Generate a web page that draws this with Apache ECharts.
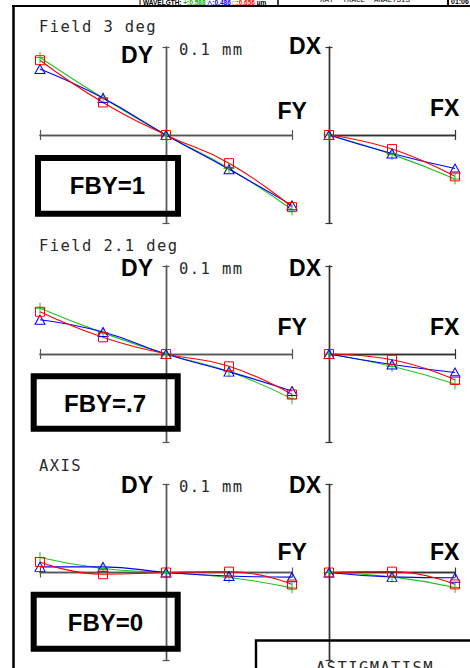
<!DOCTYPE html>
<html>
<head>
<meta charset="utf-8">
<script src="https://cdn.jsdelivr.net/npm/echarts@6/dist/echarts.min.js"></script>
<style>
html,body{margin:0;padding:0;background:#fff;}
#chart{width:470px;height:668px;}
text[style*="DejaVu Sans Mono"]{letter-spacing:1.4px;}
</style>
</head>
<body>
<div id="chart"></div>
<script>
// ---------- data ----------
const pupilY = [-1, -0.5, 0, 0.5, 1];          // relative pupil coordinate (tangential fan)
const pupilX = [0, 0.5, 1];                      // relative pupil coordinate (sagittal fan)
const fieldTitles = ['Field 3 deg', 'Field 2.1 deg', 'AXIS'];
const fbyLabels = ['FBY=1', 'FBY=.7', 'FBY=0'];
const wavelengths = ['0.588', '0.486', '0.656'];  // µm : green +, blue triangle, red square
const scaleValue = 0.1;                           // mm, full scale of DY / DX axes
const scaleUnit = 'mm';

// Field 3 deg
const dy588_f3 = [0.088, 0.042, 0, -0.038, -0.085];
const dy486_f3 = [0.075, 0.042, 0, -0.039, -0.080];
const dy656_f3 = [0.085, 0.037, 0, -0.032, -0.082];
const dx588_f3 = [0, -0.022, -0.050];
const dx486_f3 = [0, -0.021, -0.038];
const dx656_f3 = [0, -0.016, -0.047];
// Field 2.1 deg
const dy588_f2 = [0.052, 0.024, 0, -0.020, -0.051];
const dy486_f2 = [0.039, 0.025, 0, -0.020, -0.042];
const dy656_f2 = [0.048, 0.019, 0, -0.014, -0.046];
const dx588_f2 = [0, -0.014, -0.034];
const dx486_f2 = [0, -0.012, -0.021];
const dx656_f2 = [0, -0.0065, -0.0295];
// Axis
const dy588_f0 = [0.017, 0.0045, 0, -0.0057, -0.0175];
const dy486_f0 = [0.0064, 0.0064, 0, -0.004, -0.0053];
const dy656_f0 = [0.012, -0.002, 0, 0.001, -0.0137];
const dx588_f0 = [0, -0.005, -0.017];
const dx486_f0 = [0, -0.005, -0.006];
const dx656_f0 = [0, 0.001, -0.0135];

const dyPanels = [[dy588_f3, dy486_f3, dy656_f3], [dy588_f2, dy486_f2, dy656_f2], [dy588_f0, dy486_f0, dy656_f0]];
const dxPanels = [[dx588_f3, dx486_f3, dx656_f3], [dx588_f2, dx486_f2, dx656_f2], [dx588_f0, dx486_f0, dx656_f0]];

// ---------- styling / layout ----------
const colors = ['#1ec21e', '#0000ff', '#ff0000'];
const symbols = ['path://M5,0L5,10M0,5L10,5', 'triangle', 'rect'];
const symbolSizes = [11, [10, 9], 9];
const axisY0 = [135, 354, 572.5];
const halfH = 88;
const MONO = '"DejaVu Sans Mono", monospace';
const SANS = '"Liberation Sans", Arial, sans-serif';
const MONO_SIZE = 15.5;

const grids = [], xAxes = [], yAxes = [], series = [];

function addGrid(left, width, top, xMin, xInterval, axisColor) {
  const g = grids.length;
  grids.push({left: left, top: top, width: width, height: 2 * halfH, containLabel: false, outerBoundsMode: 'none'});
  ['bottom', 'top'].forEach(function (pos) {
    xAxes.push({
      type: 'value', gridIndex: g, min: xMin, max: 1, interval: xInterval, position: pos,
      axisLine: {show: true, onZero: true, lineStyle: {color: axisColor, width: 1.4}},
      axisTick: {show: true, inside: false, length: 5, lineStyle: {color: axisColor, width: 1.2}},
      axisLabel: {show: false}, splitLine: {show: false}
    });
  });
  ['left', 'right'].forEach(function (pos) {
    yAxes.push({
      type: 'value', gridIndex: g, min: -scaleValue, max: scaleValue, interval: 2 * scaleValue, position: pos,
      axisLine: {show: true, onZero: true, lineStyle: {color: axisColor, width: 1.4}},
      axisTick: {show: true, inside: false, length: 3.5, lineStyle: {color: axisColor, width: 1.2}},
      axisLabel: {show: false},
      splitLine: {show: false}
    });
  });
  return g;
}

function addSeries(g, xs, sets) {
  sets.forEach(function (vals, k) {
    series.push({
      type: 'line', xAxisIndex: 2 * g, yAxisIndex: 2 * g, smooth: true, silent: true,
      data: xs.map(function (x, i) { return [x, vals[i]]; }),
      symbol: symbols[k], symbolSize: symbolSizes[k], showAllSymbol: true,
      itemStyle: {color: 'rgba(0,0,0,0)', borderColor: colors[k], borderWidth: 1},
      lineStyle: {color: colors[k], width: 1.1},
      emphasis: {disabled: true}
    });
  });
}

for (let p = 0; p < 3; p++) {
  const top = axisY0[p] - halfH;
  const gl = addGrid(40, 252, top, -1, 2, '#555');
  addSeries(gl, pupilY, dyPanels[p]);
  const gr = addGrid(329, 126, top, 0, 1, '#333');
  addSeries(gr, pupilX, dxPanels[p]);
}

// ---------- text & frame ----------
const titleY = [27.3, 245.7, 465.5];
const scaleLabY = [49.8, 268.5, 486.8];
const dyLab = [54.5, 268, 485.3];
const dxLab = [46, 268, 485];
const fyLab = [111, 327, 552];
const fxLab = [107.5, 326.5, 551.5];
const fbyBox = [[38, 158, 140, 55.7], [33.7, 376.3, 144, 52.4], [33.7, 594.7, 144, 54]];
const fbyText = [[107.5, 185], [105, 403], [105.5, 622]];

const g = [];
function txt(x, y, s, opt) {
  g.push({type: 'text', x: x, y: y, z: 100, silent: true, style: Object.assign({text: s, fill: '#000', align: 'left', verticalAlign: 'middle'}, opt)});
}
for (let p = 0; p < 3; p++) {
  txt(39, titleY[p], fieldTitles[p], {fontFamily: MONO, fontSize: MONO_SIZE, fill: '#2a2a2a'});
  txt(179, scaleLabY[p], scaleValue + ' ' + scaleUnit, {fontFamily: MONO, fontSize: MONO_SIZE, fill: '#2a2a2a'});
  txt(153, dyLab[p], 'DY', {fontFamily: SANS, fontWeight: 'bold', fontSize: 23, align: 'right'});
  txt(321, dxLab[p], 'DX', {fontFamily: SANS, fontWeight: 'bold', fontSize: 23, align: 'right'});
  txt(277.5, fyLab[p], 'FY', {fontFamily: SANS, fontWeight: 'bold', fontSize: 23});
  txt(430, fxLab[p], 'FX', {fontFamily: SANS, fontWeight: 'bold', fontSize: 23});
  const b = fbyBox[p];
  g.push({type: 'rect', z: 100, silent: true, shape: {x: b[0], y: b[1], width: b[2], height: b[3]}, style: {fill: 'none', stroke: '#000', lineWidth: 6}});
  txt(fbyText[p][0], fbyText[p][1], fbyLabels[p], {fontFamily: SANS, fontWeight: 'bold', fontSize: 24, align: 'center'});
}
// frame lines
function ln(x1, y1, x2, y2, w) {
  g.push({type: 'line', z: 90, silent: true, shape: {x1: x1, y1: y1, x2: x2, y2: y2}, style: {stroke: '#000', lineWidth: w}});
}
ln(13.5, 5, 13.5, 668, 2.5);
ln(12, 6, 470, 6, 2);
ln(140, 0, 140, 6, 1);
ln(278, 0, 278, 6, 1.5);
ln(448, 0, 448, 6, 2);
// header
g.push({type: 'text', x: 143, y: 5.5, z: 100, silent: true, style: {
  text: '{k|WAVELGTH:} {g|+:' + wavelengths[0] + '} {b|\u25B3:' + wavelengths[1] + '} {r|\u25A1:' + wavelengths[2] + '} {k|\u00B5m}',
  verticalAlign: 'bottom', align: 'left', fontFamily: SANS, fontWeight: 'bold', fontSize: 6.5,
  rich: {k: {fill: '#000', fontWeight: 'bold', fontSize: 6.5}, g: {fill: '#00b000', fontWeight: 'bold', fontSize: 6.5}, b: {fill: '#0000ff', fontWeight: 'bold', fontSize: 6.5}, r: {fill: '#ff0000', fontWeight: 'bold', fontSize: 6.5}}
}});
g.push({type: 'text', x: 320, y: 3.5, z: 100, silent: true, style: {text: 'RAY  TRACE  ANALYSIS', fill: '#000', fontFamily: '"Liberation Mono", monospace', fontSize: 7.5, align: 'left', verticalAlign: 'bottom'}});
g.push({type: 'text', x: 451, y: 5, z: 100, silent: true, style: {text: '01:06', fill: '#000', fontFamily: SANS, fontWeight: 'bold', fontSize: 7, align: 'left', verticalAlign: 'bottom'}});
// astigmatism box
g.push({type: 'rect', z: 100, silent: true, shape: {x: 256, y: 640.5, width: 240, height: 60}, style: {fill: 'none', stroke: '#000', lineWidth: 2.4}});
txt(316, 667.5, 'ASTIGMATISM', {fontFamily: MONO, fontSize: MONO_SIZE, fill: '#2a2a2a'});

const chart = echarts.init(document.getElementById('chart'), null, {renderer: 'svg', width: 470, height: 668});
chart.setOption({
  backgroundColor: '#fff',
  animation: false,
  grid: grids, xAxis: xAxes, yAxis: yAxes, series: series,
  graphic: {elements: g}
});
</script>
</body>
</html>
